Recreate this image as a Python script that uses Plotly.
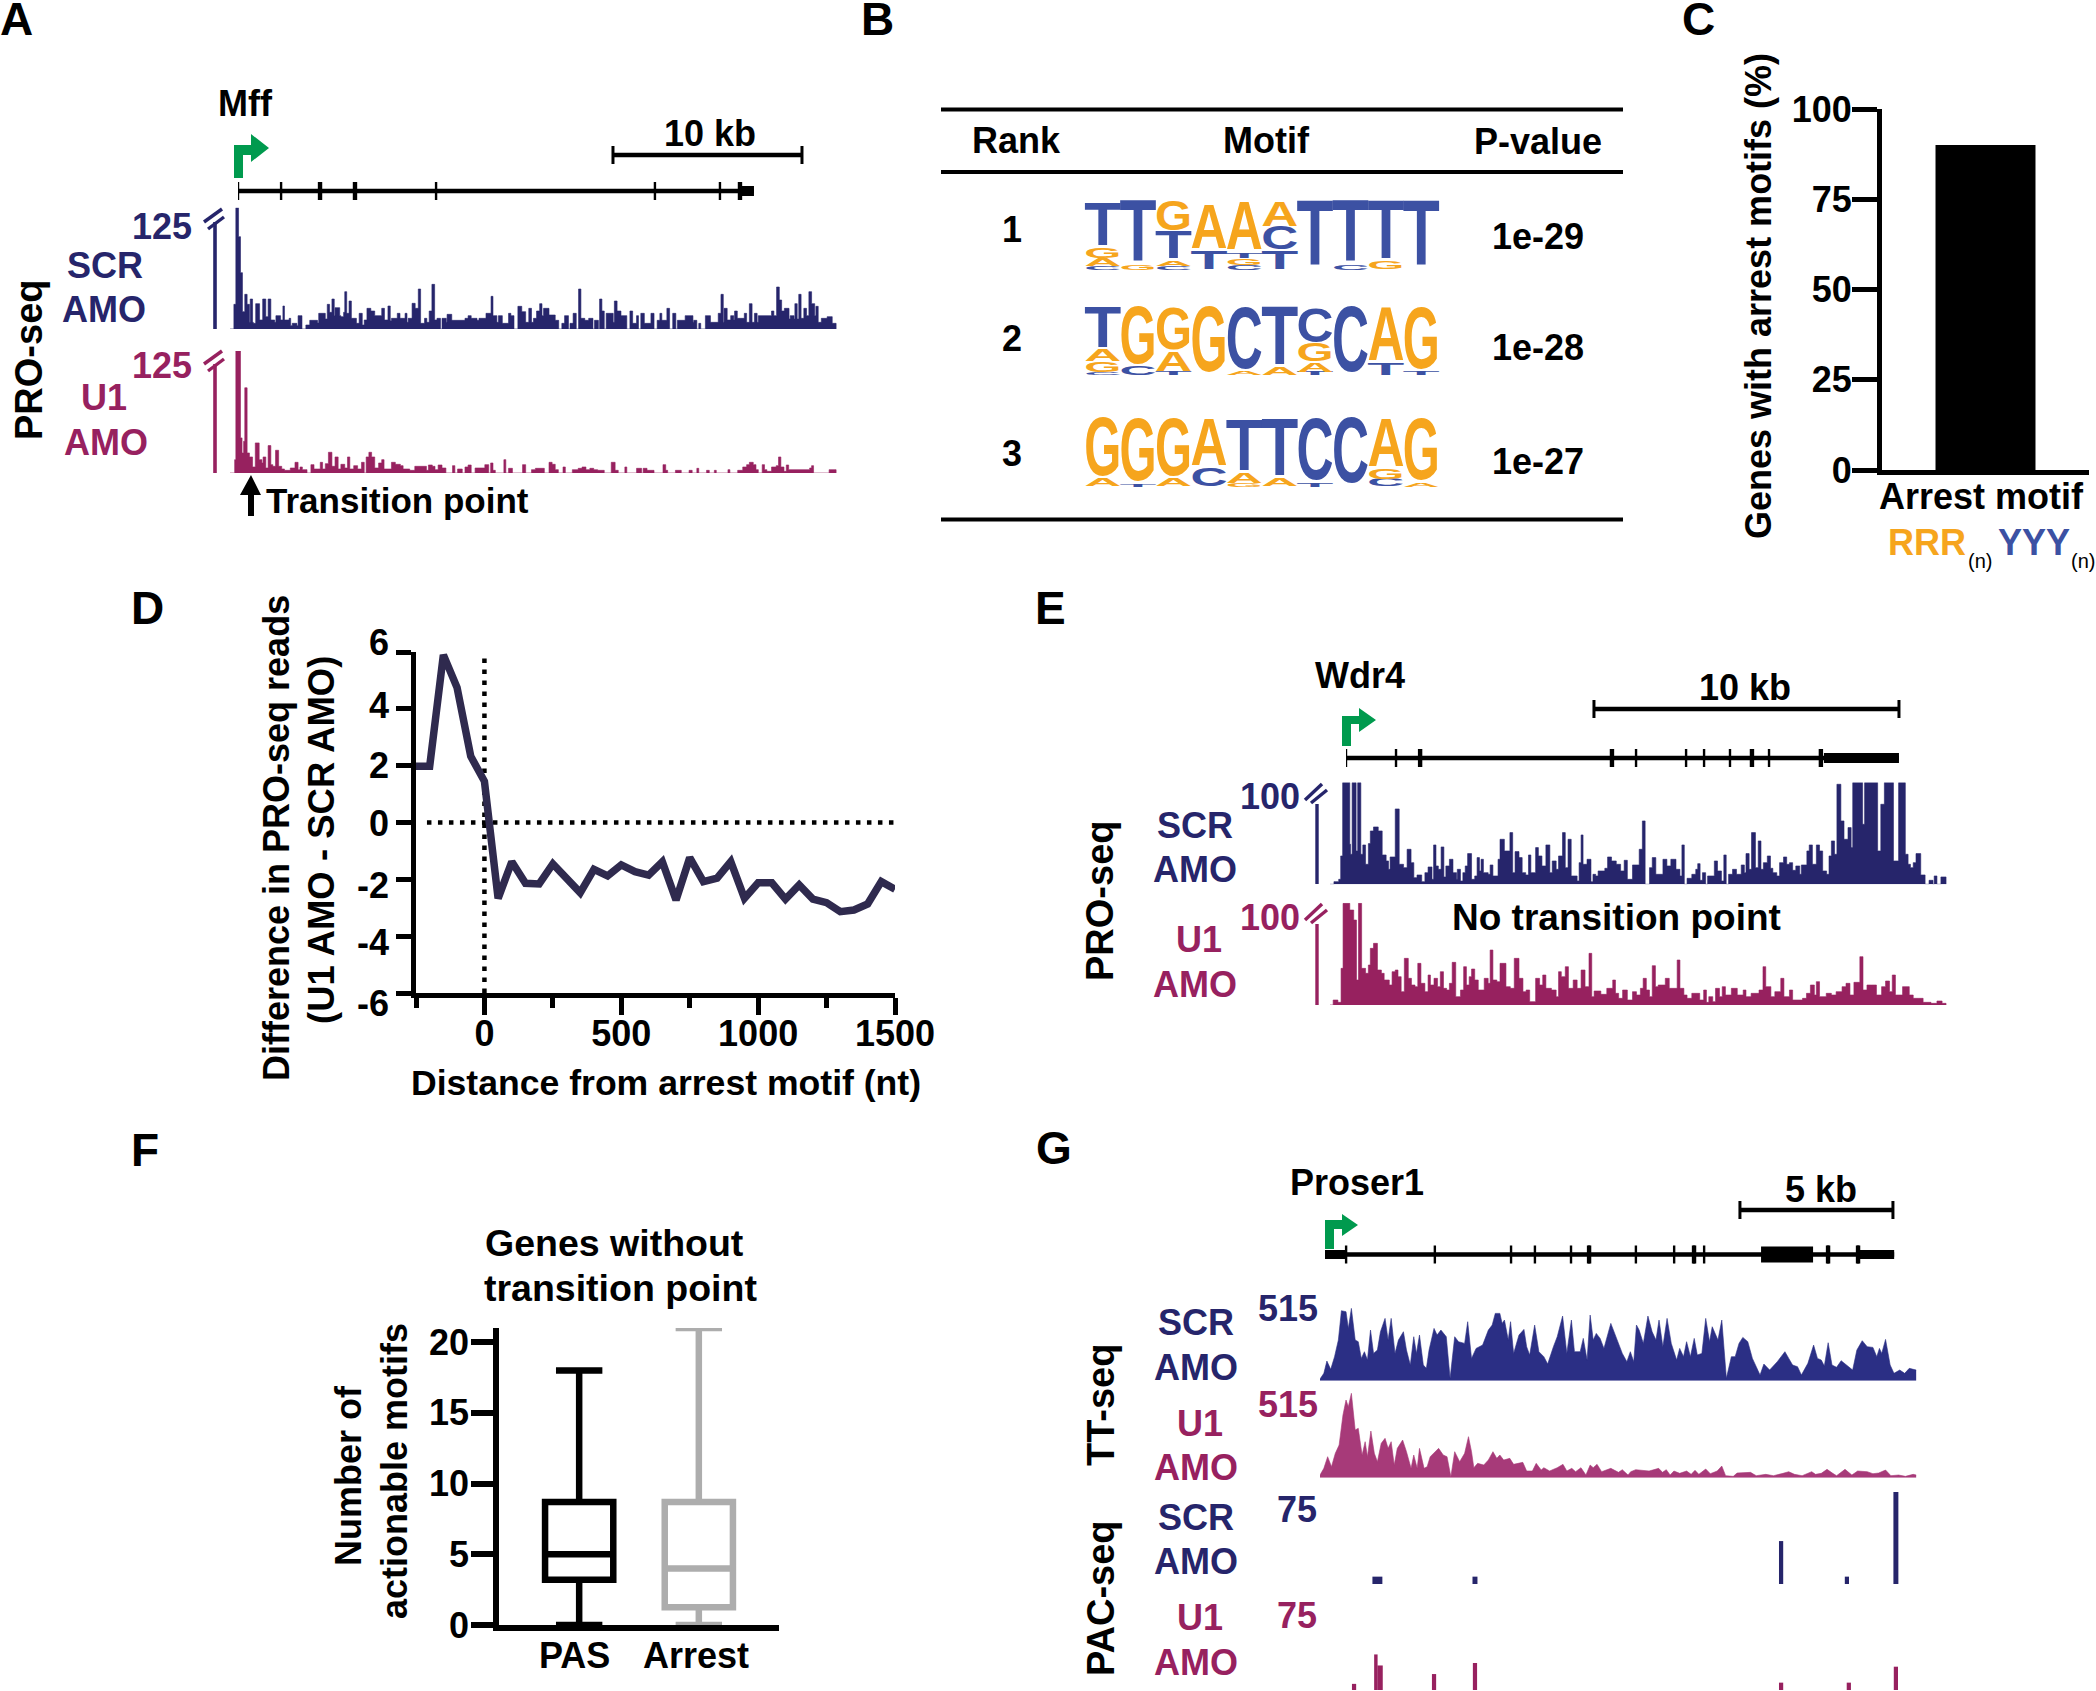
import plotly.graph_objects as go

W, H = 2096, 1691
FONT = "Liberation Sans"
NAVY = "#26256b"
MAG = "#97215f"
GREEN = "#009a4e"
ORANGE = "#f6a51d"
BLUE = "#3c51a3"
GREY = "#adadad"

# panel A - PRO-seq signal on Mff, bin number (about 20 bp) and height
mff_scr_bins = [0,10,15,22,27,32,38,44,50,52,
    58,60,66,76,84,92,98,105,115,118,
    130,136,140,152,156,160,172,175,185,195,
    205,225,228,245,250,256,262,268,270,282,
    285,292,295,300,306,312,325,332,340,345,
    352,362,372,390,397,406,412,415,430,437,
    450,455,458,468,476,484,490,500,506,512,
    519,526,532,541,545,556,558,570,575,604,
    612,620,635,640,658,671,676,686,690,700,
    716,722,730,740,750,760,768,775,780,788,
    796,802,806,820,836,845,853,860,870,874,
    882,890,896,902,912,922,933,937,947,950,
    956,962,967,985,988,995,1005,1020,1028,1035,
    1045,1050,1056,1065,1082,1090,1098,1105,1110,1123,
    1130,1138,1146,1150,1170,1190,1192,1200,1205,1210,
    1222,1235,1255,1262,1268,1270,1278,1287,1295,1297,
    1304,1312,1322,1328,1335,1342,1348,1355,1358,1392,
    1398,1405,1412,1418,1425,1437,1440,1450,1452,1458,
    1462,1468,1475,1482,1488,1495,1503,1506,1512,1520,
    1535,1548,1558]
mff_scr_vals = [0,74,364,277,169,52,104,74,20,90,
    20,17,76,27,90,37,90,27,20,40,
    27,69,27,32,10,17,10,40,0,12,
    26,18,47,30,74,50,90,40,64,40,
    37,50,112,47,84,32,17,47,12,27,
    62,54,40,62,27,69,25,32,47,32,
    47,20,32,77,62,120,17,32,20,54,
    134,27,32,0,32,20,44,26,26,32,
    40,32,26,32,47,98,40,20,40,17,
    47,40,0,68,52,20,62,20,32,54,
    76,40,62,42,26,0,17,40,0,17,
    47,0,120,32,26,32,0,26,0,90,
    54,0,47,20,84,54,40,0,54,17,
    40,0,47,17,47,0,26,47,26,62,
    0,47,0,26,40,20,26,0,17,0,
    40,20,47,104,20,62,27,40,27,54,
    32,32,47,20,76,20,47,20,40,54,
    40,126,87,54,62,30,40,30,76,30,
    104,32,62,40,112,76,40,68,20,32,
    37,17,0]

mff_u1_bins = [0,12,15,27,31,35,38,44,50,58,65,75,82,85,92,98,105,110,117,125,133,140,155,167,175,180,186,198,208,216,225,232,238,245,253,262,270,278,285,295,302,308,318,328,338,345,350,357,364,372,382,390,396,415,425,438,445,462,475,505,510,520,527,535,545,555,572,578,585,597,604,612,620,630,655,665,670,676,682,704,709,716,726,752,760,775,785,808,820,828,836,844,856,862,880,895,905,915,925,935,945,962,980,990,998,1015,1020,1045,1058,1062,1072,1090,1113,1120,1125,1145,1160,1180,1188,1200,1205,1225,1232,1245,1250,1280,1285,1305,1318,1328,1335,1345,1352,1358,1368,1374,1380,1392,1404,1410,1416,1424,1430,1436,1490,1495,1500,1540,1558]
mff_u1_vals = [0,40,365,105,60,95,255,60,48,18,90,40,30,48,15,82,25,20,68,20,12,8,15,32,10,18,10,0,25,12,12,32,12,28,62,20,48,12,26,15,48,12,22,12,32,0,48,62,48,15,30,40,12,32,26,22,12,8,20,8,24,20,10,24,15,0,22,0,12,0,18,24,0,15,25,0,30,8,0,40,0,14,0,25,0,10,14,0,32,26,10,0,18,0,10,14,18,10,14,10,8,0,32,8,0,18,0,14,0,14,8,0,25,8,0,8,0,8,0,14,0,8,0,8,0,10,0,8,18,25,32,25,10,0,25,10,5,18,22,48,18,5,24,10,15,22,0,10,0]

# panel E - PRO-seq signal on Wdr4
wdr4_scr_bins = [0,10,22,27,32,50,52,56,66,70,78,83,90,97,102,110,122,132,142,148,152,165,175,186,195,205,212,220,232,240,248,258,262,268,274,281,288,293,302,311,320,322,330,336,342,348,358,366,372,378,382,388,400,405,412,425,430,441,455,462,468,478,486,495,502,508,520,527,536,546,556,562,572,578,588,595,602,610,625,630,635,640,650,660,665,672,678,695,702,712,724,735,744,752,765,782,790,797,808,815,824,842,852,862,875,885,890,896,903,915,925,930,936,942,950,955,972,980,990,996,1002,1008,1018,1028,1040,1048,1052,1060,1066,1076,1083,1090,1096,1106,1114,1120,1130,1137,1147,1155,1162,1170,1178,1188,1192,1206,1212,1220,1230,1238,1246,1256,1262,1268,1276,1282,1292,1300,1310,1318,1322,1347,1352,1385,1393,1402,1425,1438,1455,1462,1468,1475,1482,1494,1505,1515,1525,1528,1535,1545,1558]
wdr4_scr_vals = [0,8,15,85,305,120,90,305,100,305,90,118,60,122,160,172,160,88,70,45,82,226,60,50,105,65,20,28,8,35,52,15,118,55,45,112,22,55,75,35,15,45,10,35,55,92,15,25,80,40,75,35,30,58,25,75,135,100,155,35,98,80,35,28,88,35,110,85,55,118,35,70,45,85,155,50,135,25,10,65,148,60,75,8,30,25,40,48,82,70,60,40,72,15,58,105,190,0,50,80,30,75,55,75,45,25,118,0,18,30,45,62,12,35,0,25,70,40,10,88,0,30,45,30,58,35,92,45,155,50,130,45,65,85,48,35,25,65,82,60,65,42,55,30,58,100,118,60,118,100,40,30,85,130,90,300,190,135,170,110,305,180,305,100,240,305,70,305,90,60,50,65,92,28,0,12,0,25,0,22,0]

wdr4_u1_bins = [0,8,20,28,33,50,60,67,72,80,90,97,102,110,120,130,137,150,157,165,172,180,188,198,206,215,222,230,240,248,254,263,272,279,287,295,302,309,318,330,338,345,352,358,366,375,390,400,405,412,422,430,445,456,466,478,488,496,505,520,530,538,546,560,572,578,585,595,603,615,625,635,645,655,662,668,685,700,715,722,730,740,752,765,775,785,792,800,808,815,823,830,848,858,878,885,895,903,915,935,945,952,958,968,975,985,992,1000,1015,1030,1045,1052,1065,1078,1085,1095,1102,1115,1125,1140,1148,1162,1170,1188,1195,1205,1215,1225,1230,1238,1255,1268,1280,1295,1305,1315,1325,1340,1348,1358,1370,1382,1395,1405,1415,1422,1430,1448,1465,1475,1488,1500,1520,1535,1548,1558]
wdr4_u1_vals = [0,15,8,110,305,285,255,75,305,110,95,120,170,185,105,95,75,60,100,105,85,40,140,80,60,55,125,65,40,90,60,80,55,100,50,45,65,128,25,45,115,60,85,108,75,45,80,65,165,75,70,125,55,50,140,80,40,45,10,80,60,90,50,45,25,100,85,115,50,75,50,105,55,155,25,42,32,50,75,35,20,45,15,40,30,50,80,45,25,118,55,60,80,50,135,50,30,20,35,15,45,8,25,10,50,25,55,30,50,30,45,25,35,35,45,115,55,25,40,80,25,45,15,15,20,35,60,30,70,25,35,30,40,55,65,30,68,145,45,60,60,30,55,72,40,90,30,55,30,20,20,8,5,12,5,0]

# panel G - TT-seq coverage on Proser1
proser_scr_bins = [0,10,18,28,38,48,56,68,74,82,92,100,108,116,124,132,140,150,158,170,178,186,196,205,218,226,236,245,252,260,270,278,285,298,306,316,330,340,352,362,378,386,396,408,425,440,450,458,470,476,482,492,498,506,520,533,540,548,561,572,585,595,610,620,634,645,657,665,680,688,698,706,714,722,732,742,760,776,790,802,811,820,827,834,845,857,868,878,886,896,907,918,932,940,950,958,968,978,986,998,1008,1018,1025,1040,1050,1062,1075,1085,1095,1105,1118,1130,1150,1160,1175,1195,1215,1225,1235,1248,1258,1275,1290,1300,1310,1318,1328,1338,1350,1362,1378,1392,1403,1417,1430,1445,1455,1462,1468,1478,1490,1500,1515,1528,1540,1558]
proser_scr_vals = [5,22,59,34,72,122,210,207,157,217,122,117,67,87,62,152,82,92,147,187,122,187,82,122,147,92,47,132,82,137,47,37,92,157,137,152,132,7,132,117,112,177,67,97,107,152,167,202,202,172,182,122,177,82,137,154,102,77,167,87,72,50,102,132,194,82,182,87,87,127,62,197,122,142,127,97,172,122,82,57,87,57,167,152,112,194,147,122,182,102,187,112,62,97,72,117,72,127,77,82,187,117,162,122,182,7,72,72,112,130,117,67,17,50,32,57,87,67,47,42,17,52,107,67,62,44,114,47,40,60,44,32,92,120,102,100,72,97,82,124,47,22,32,22,37,32]

proser_u1_bins = [0,10,20,30,40,50,60,68,74,82,92,100,110,118,124,133,142,150,160,170,178,186,194,202,216,226,238,245,254,260,272,280,288,310,322,332,342,352,365,378,388,396,402,412,428,440,452,462,470,480,496,506,530,540,555,565,578,585,600,620,635,645,658,668,682,695,706,714,724,736,760,780,790,805,812,825,860,885,895,905,915,925,940,958,970,980,990,1008,1020,1038,1050,1060,1080,1090,1125,1140,1165,1185,1210,1225,1240,1260,1285,1295,1310,1325,1340,1350,1372,1390,1405,1430,1445,1460,1478,1492,1512,1530,1550,1558]
proser_u1_vals = [8,28,63,33,73,98,188,233,213,253,143,148,68,108,63,140,73,48,103,118,88,108,38,88,113,78,28,68,28,88,28,33,63,88,68,63,3,78,48,73,123,78,30,43,38,53,78,58,68,53,58,40,46,20,20,43,23,30,20,30,40,20,28,18,30,8,38,30,40,18,28,16,24,8,18,24,20,28,16,24,8,20,13,20,10,22,10,26,12,20,35,6,4,14,16,6,10,6,13,18,10,6,18,10,13,25,13,6,25,8,20,18,12,14,23,6,8,4,10,8]

# bins and heights have to pair up
track_lengths = {
    "mff_scr": (len(mff_scr_bins), len(mff_scr_vals)), "mff_u1": (len(mff_u1_bins), len(mff_u1_vals)),
    "wdr4_scr": (len(wdr4_scr_bins), len(wdr4_scr_vals)), "wdr4_u1": (len(wdr4_u1_bins), len(wdr4_u1_vals)),
    "proser_scr": (len(proser_scr_bins), len(proser_scr_vals)), "proser_u1": (len(proser_u1_bins), len(proser_u1_vals)),
}
assert all(a == b for a, b in track_lengths.values()), str(track_lengths)

# panel G - PAC-seq peaks
pac_scr_pos = [150,405,1205,1377,1505]
pac_scr_reads = [6,6,35,6,75]
pac_scr_width = [26,13,11,11,13]
pac_u1_pos = [89,146,157,298,405,1205,1382,1505]
pac_u1_reads = [5,29,20,13,22,6,6,19]
pac_u1_width = [11,9,14,11,11,11,11,11]

# gene models, kb from the left end
mff_exons = [0,2.28,4.34,6.19,10.48,22.06,25.5,26.56]
mff_wide = [4.34,6.19,26.56]
mff_blocks = [[26.56,27.3]]
mff_block_h = [10]
wdr4_exons = [0,1.64,2.43,8.72,9.51,11.15,11.74,12.59,13.31,13.87,15.57]
wdr4_wide = [2.43,8.72,13.31,15.57]
wdr4_blocks = [[15.67,18.13]]
wdr4_block_h = [10]
proser_exons = [0.69,3.59,6.08,6.86,8.04,8.63,10.16,11.41,12.06,12.39,16.44,17.42]
proser_wide = [8.63,12.06,16.44,17.42]
proser_blocks = [[0,0.69],[14.25,15.95],[17.42,18.6]]
proser_block_h = [9,16,9]

# panel B - sequence logos, letters from the bottom of each stack to the top
motif_ranks = ["1","2","3"]
motif_pvalues = ["1e-29","1e-28","1e-27"]
motif1_letters = [["C","A","G","T"],["G","T"],["C","A","T","G"],["T","A"],["C","G","T","A"],["T","C","A"],["T"],["C","T"],["G","T"],["T"]]
motif1_heights = [[.05,.12,.15,.65],[.08,.91],[.06,.08,.41,.44],[.28,.67],[.07,.10,.08,.72],[.28,.34,.36],[.97],[.08,.91],[.12,.87],[.97]]
motif2_letters = [["C","G","A","T"],["C","G"],["T","A","G"],["G"],["A","C"],["A","T"],["T","A","G","C"],["C"],["T","A"],["T","G"]]
motif2_heights = [[.04,.16,.18,.61],[.13,.86],[.05,.30,.64],[.98],[.05,.92],[.11,.88],[.05,.14,.27,.52],[.98],[.17,.80],[.05,.92]]
motif3_letters = [["A","G"],["T","G"],["A","G"],["C","A"],["G","A","T"],["A","T"],["T","C"],["C"],["C","G","A"],["A","G"]]
motif3_heights = [[.11,.88],[.04,.94],[.11,.87],[.27,.70],[.05,.15,.77],[.11,.87],[.05,.92],[.98],[.11,.15,.72],[.05,.93]]

# panel C
arrest_percent = [90]

# panel D
distance_nt = [-250,-200,-150,-100,-50,0,50,100,150,200,250,300,350,400,450,500,550,600,650,700,750,800,850,900,950,1000,1050,1100,1150,1200,1250,1300,1350,1400,1450,1500]
read_difference = [1.98,1.98,5.9,4.75,2.33,1.45,-2.67,-1.38,-2.14,-2.16,-1.46,-1.96,-2.47,-1.65,-1.88,-1.49,-1.73,-1.85,-1.38,-2.73,-1.24,-2.08,-1.96,-1.38,-2.67,-2.12,-2.12,-2.7,-2.2,-2.7,-2.82,-3.14,-3.08,-2.87,-2.08,-2.35]

# panel F
box_names = ["PAS","Arrest"]
box_low = [0,0]
box_q1 = [3.2,1.25]
box_median = [5,4]
box_q3 = [8.7,8.7]
box_high = [18,21]

fig = go.Figure()
axis_count = 1


def tick_font(size=36):
    return dict(family=FONT, size=size, color="black", weight=700)


def add_axes(x0, x1, y_bottom, y_top, xr, yr, xstyle=None, ystyle=None):
    global axis_count
    axis_count += 1
    n = axis_count
    xa = dict(domain=[x0 / W, x1 / W], range=xr, anchor=f"y{n}", visible=False, showgrid=False, zeroline=False)
    ya = dict(domain=[1 - y_bottom / H, 1 - y_top / H], range=yr, anchor=f"x{n}", visible=False, showgrid=False, zeroline=False)
    xa.update(xstyle or {})
    ya.update(ystyle or {})
    fig.update_layout({f"xaxis{n}": xa, f"yaxis{n}": ya})
    return f"x{n}", f"y{n}"


notes = []
shapes = []


def txt(x, y, s, color="black", size=36, angle=0, anchor="center", weight=700):
    notes.append(dict(x=x / W, y=1 - y / H, xref="paper", yref="paper", text=s, showarrow=False,
                      xanchor=anchor, yanchor="middle", textangle=angle,
                      font=dict(family=FONT, size=size, color=color, weight=weight)))


def poly(pts, color):
    d = "M " + " L ".join(f"{x / W:.5f},{1 - y / H:.5f}" for x, y in pts) + " Z"
    shapes.append(dict(type="path", path=d, xref="paper", yref="paper", fillcolor=color, line=dict(width=0)))


def seg(x0, y0, x1, y1, color, width):
    shapes.append(dict(type="line", xref="paper", yref="paper", x0=x0 / W, x1=x1 / W, y0=1 - y0 / H, y1=1 - y1 / H,
                       line=dict(color=color, width=width)))


def tss_arrow(x0, x1, bottom, top, band, hb, tip, htop, hbot, mid):
    poly([(x0, bottom), (x0, top), (hb, top), (hb, htop), (tip, mid), (hb, hbot), (hb, band), (x1, band), (x1, bottom)], GREEN)


def track(bins, vals, xr, box, ymax, color, shape="hv"):
    xa, ya = add_axes(box[0], box[1], box[2], box[3], xr, [0, ymax])
    fig.add_trace(go.Scatter(x=bins, y=vals, mode="lines", line=dict(color=color, width=0.6, shape=shape),
                             fill="tozeroy", fillcolor=color, xaxis=xa, yaxis=ya, showlegend=False))


def gene(x0, px_per_kb, gene_y, scale_y, exons, wide, blocks, block_h, end, scale_start, scale_kb):
    span = 620
    xa, ya = add_axes(x0, x0 + span, gene_y + 14, scale_y - 14, [0, span / px_per_kb], [-14, gene_y - scale_y + 14])
    sy = gene_y - scale_y

    def line(xs, ys, w):
        fig.add_trace(go.Scatter(x=xs, y=ys, mode="lines", line=dict(color="black", width=w), xaxis=xa, yaxis=ya,
                                 showlegend=False, cliponaxis=False))

    def ticks(pos, w):
        tx, ty = [], []
        for e in pos:
            tx += [e, e, None]
            ty += [-9, 9, None]
        line(tx, ty, w)
    line([0, end], [0, 0], 4.4)
    ticks(exons, 2.4)
    ticks(wide, 4.4)
    for b, bh in zip(blocks, block_h):
        line(b, [0, 0], bh)
    line([scale_start, scale_start + scale_kb], [sy, sy], 4.4)
    line([scale_start, scale_start, None, scale_start + scale_kb, scale_start + scale_kb],
         [sy - 9, sy + 9, None, sy - 9, sy + 9], 3)


def logo(letters, heights, box):
    xa, ya = add_axes(box[0], box[1], box[2], box[3], [0.5, 10.5], [0, 1])
    xs, ys, labels, sizes, colors = [], [], [], [], []
    for i, (col, hs) in enumerate(zip(letters, heights)):
        base = 0
        for ch, h in zip(col, hs):
            xs.append(i + 1)
            # text middle sits a bit lower than the middle of the capital
            ys.append(base + h / 2 - 0.083 * h)
            labels.append(ch)
            sizes.append(h * (box[2] - box[3]) / 0.72)
            colors.append(ORANGE if ch in "GA" else BLUE)
            base += h
    fig.add_trace(go.Scatter(x=xs, y=ys, text=labels, mode="text", textposition="middle center", cliponaxis=False,
                             textfont=dict(family=FONT, size=sizes, color=colors, weight=700),
                             xaxis=xa, yaxis=ya, showlegend=False))


def scale_hash(xb, ytop, color, rel):
    for a, b, c, d in rel:
        seg(xb + a, ytop + b, xb + c, ytop + d, color, 3.4)


# panel letters
for lab, x, y in [("A", 16, 19), ("B", 877, 19), ("C", 1698, 19), ("D", 147, 608), ("E", 1050, 608), ("F", 145, 1150), ("G", 1054, 1148)]:
    txt(x, y, lab, size=46)

# A
track(mff_scr_bins, mff_scr_vals, [0, 1568], (230, 840, 329, 207.7), 364, NAVY)
track(mff_u1_bins, mff_u1_vals, [0, 1568], (230, 840, 473, 351), 365, MAG)
gene(238, 18.9, 191, 155, mff_exons, mff_wide, mff_blocks, mff_block_h, 27.3, 19.84, 10)
tss_arrow(234, 243, 178, 145, 155, 251, 269, 134, 162, 148)
hash_a = [(-11, 2, 7, -11), (-7, 9, 9, -3)]
seg(215, 222, 215, 329, NAVY, 3.6)
scale_hash(215, 220, NAVY, hash_a)
seg(215, 364, 215, 473, MAG, 3.6)
scale_hash(215, 362, MAG, hash_a)
poly([(248, 516), (248, 495), (240, 495), (251, 475), (261, 495), (254, 495), (254, 516)], "black")
txt(245, 104, "Mff")
txt(710, 134, "10 kb")
txt(162, 226, "125", NAVY)
txt(105, 265, "SCR", NAVY)
txt(104, 310, "AMO", NAVY)
txt(162, 366, "125", MAG)
txt(104, 397, "U1", MAG)
txt(106, 442, "AMO", MAG)
txt(29, 360, "PRO-seq", size=38, angle=-90)
txt(264, 500, "Transition point", size=35, anchor="left")

# B
logo(motif1_letters, motif1_heights, (1085, 1439, 270, 201.6))
logo(motif2_letters, motif2_heights, (1085, 1439, 375.6, 308))
logo(motif3_letters, motif3_heights, (1085, 1439, 487, 419))
for y in [109.5, 172, 519.5]:
    seg(941, y, 1623, y, "black", 3.8)
txt(1016, 140, "Rank")
txt(1266, 140, "Motif")
txt(1538, 141, "P-value")
for rank, pval, y_rank, y_p in zip(motif_ranks, motif_pvalues, [229, 338, 453], [237, 347, 461]):
    txt(1012, y_rank, rank)
    txt(1538, y_p, pval)

# C
xa, ya = add_axes(1882, 2089, 470, 109, [-0.5, 0.5], [0, 100],
                  dict(visible=True, showline=True, linecolor="black", linewidth=5, ticks="", showticklabels=False),
                  dict(visible=True, showline=True, linecolor="black", linewidth=5, ticks="outside", ticklen=25,
                       tickwidth=5, tickcolor="black", tickvals=[0, 25, 50, 75, 100], tickfont=tick_font(),
                       ticklabelstandoff=-7))
fig.add_trace(go.Bar(x=[0], y=arrest_percent, width=0.483, marker=dict(color="black", line=dict(width=0)),
                     xaxis=xa, yaxis=ya, showlegend=False))
txt(1758, 296, "Genes with arrest motifs (%)", size=36, angle=-90)
txt(1981, 497, "Arrest motif")
txt(1927, 542, "RRR", ORANGE)
txt(1980, 561, "(n)", size=20, weight=400)
txt(2034, 542, "YYY", BLUE)
txt(2083, 561, "(n)", size=20, weight=400)

# D
xa, ya = add_axes(416, 895, 993, 652, [-250, 1500], [-6, 6],
                  dict(visible=True, showline=True, linecolor="black", linewidth=5, ticks="outside", ticklen=17,
                       tickwidth=5, tickcolor="black", tickvals=[0, 500, 1000, 1500], tickfont=tick_font(),
                       ticklabelstandoff=-12,
                       minor=dict(tickvals=[-250, 250, 750, 1250], ticks="outside", ticklen=10, tickwidth=5, tickcolor="black")),
                  dict(visible=True, showline=True, linecolor="black", linewidth=5, ticks="outside", ticklen=15,
                       tickwidth=5, tickcolor="black", tickvals=[-6, -4, -2, 0, 2, 4, 6], showticklabels=False))
dot = dict(color="black", width=4.5, dash="4.5px,6.5px")
fig.add_trace(go.Scatter(x=[0, 0], y=[-6, 6], mode="lines", line=dot, xaxis=xa, yaxis=ya, showlegend=False))
fig.add_trace(go.Scatter(x=[-210, 1500], y=[0, 0], mode="lines", line=dot, xaxis=xa, yaxis=ya, showlegend=False))
fig.add_trace(go.Scatter(x=distance_nt, y=read_difference, mode="lines", line=dict(color="#2f2a4e", width=7.5),
                         xaxis=xa, yaxis=ya, showlegend=False))
for lab, y in [("6", 643), ("4", 705), ("2", 765), ("0", 823), ("-2", 885), ("-4", 943), ("-6", 1003)]:
    txt(391, y, lab, anchor="right")
txt(276, 838, "Difference in PRO-seq reads", angle=-90)
txt(321, 840, "(U1 AMO - SCR AMO)", size=36.5, angle=-90)
txt(666, 1083, "Distance from arrest motif (nt)", size=35.6)

# E
track(wdr4_scr_bins, wdr4_scr_vals, [0, 1568], (1330, 1950, 884.3, 782.6), 305, NAVY)
track(wdr4_u1_bins, wdr4_u1_vals, [0, 1568], (1330, 1950, 1005, 902.7), 307, MAG)
gene(1346, 30.5, 758, 709, wdr4_exons, wdr4_wide, wdr4_blocks, wdr4_block_h, 18.13, 8.13, 10)
tss_arrow(1342, 1351, 746, 716, 724, 1359, 1376, 708, 732, 720)
hash_e = [(-12, -2, 5, -18), (-6, 1, 10, -12)]
seg(1317, 804, 1317, 884, NAVY, 3.4)
scale_hash(1317, 802, NAVY, hash_e)
seg(1317, 924, 1317, 1005, MAG, 3.4)
scale_hash(1317, 922, MAG, hash_e)
txt(1360, 675, "Wdr4")
txt(1745, 687, "10 kb")
txt(1270, 796, "100", NAVY)
txt(1195, 825, "SCR", NAVY)
txt(1195, 870, "AMO", NAVY)
txt(1270, 918, "100", MAG)
txt(1199, 939, "U1", MAG)
txt(1195, 984, "AMO", MAG)
txt(1100, 901, "PRO-seq", size=38, angle=-90)
txt(1616, 918, "No transition point", size=37)

# F
xa, ya = add_axes(499, 779, 1625, 1328, [0.33, 2.67], [0, 21],
                  dict(visible=True, showline=True, linecolor="black", linewidth=5.5, ticks="", showticklabels=False,
                       layer="below traces"),
                  dict(visible=True, showline=True, linecolor="black", linewidth=5.5, ticks="outside", ticklen=22,
                       tickwidth=5.5, tickcolor="black", tickvals=[0, 5, 10, 15, 20], tickfont=tick_font(),
                       ticklabelstandoff=-5, layer="below traces"))
for i, color in enumerate(["black", GREY]):
    fig.add_trace(go.Box(x=[i + 1], q1=[box_q1[i]], median=[box_median[i]], q3=[box_q3[i]], lowerfence=[box_low[i]],
                         upperfence=[box_high[i]], width=0.57, whiskerwidth=0.68, fillcolor="rgba(0,0,0,0)",
                         line=dict(color=color, width=6.5), xaxis=xa, yaxis=ya, showlegend=False))
txt(574, 1655, box_names[0])
txt(696, 1655, box_names[1])
txt(614, 1243, "Genes without", size=37.5)
txt(620, 1288, "transition point", size=37.5)
txt(348, 1476, "Number of", angle=-90)
txt(394, 1471, "actionable motifs", angle=-90)

# G
track(proser_scr_bins, proser_scr_vals, [0, 1568], (1320, 1920, 1380.7, 1297.4), 250, "#2b2f85", "linear")
track(proser_u1_bins, proser_u1_vals, [0, 1568], (1320, 1920, 1477.7, 1391), 260, "#a73a79", "linear")
gene(1325, 30.6, 1254.5, 1210, proser_exons, proser_wide, proser_blocks, proser_block_h, 18.6, 13.56, 5)
tss_arrow(1325, 1334, 1249, 1220, 1229, 1342, 1358, 1214, 1236, 1225)
xa, ya = add_axes(1320, 1920, 1584, 1492, [0, 1568], [0, 75])
fig.add_trace(go.Bar(x=pac_scr_pos, y=pac_scr_reads, width=pac_scr_width, marker=dict(color=NAVY, line=dict(width=0)),
                     xaxis=xa, yaxis=ya, showlegend=False))
xa, ya = add_axes(1320, 1920, 1690, 1598, [0, 1568], [0, 75])
fig.add_trace(go.Bar(x=pac_u1_pos, y=pac_u1_reads, width=pac_u1_width, marker=dict(color=MAG, line=dict(width=0)),
                     xaxis=xa, yaxis=ya, showlegend=False))
txt(1357, 1182, "Proser1")
txt(1821, 1189, "5 kb")
txt(1288, 1308, "515", NAVY)
txt(1196, 1322, "SCR", NAVY)
txt(1196, 1367, "AMO", NAVY)
txt(1288, 1404, "515", MAG)
txt(1200, 1423, "U1", MAG)
txt(1196, 1467, "AMO", MAG)
txt(1101, 1405, "TT-seq", size=38, angle=-90)
txt(1297, 1509, "75", NAVY)
txt(1196, 1517, "SCR", NAVY)
txt(1196, 1561, "AMO", NAVY)
txt(1297, 1615, "75", MAG)
txt(1200, 1617, "U1", MAG)
txt(1196, 1662, "AMO", MAG)
txt(1101, 1598, "PAC-seq", size=38, angle=-90)

fig.update_layout(width=W, height=H, margin=dict(l=0, r=0, t=0, b=0, autoexpand=False), paper_bgcolor="white",
                  plot_bgcolor="rgba(0,0,0,0)", barmode="overlay", showlegend=False, annotations=notes, shapes=shapes,
                  font=dict(family=FONT, weight=700))

# squeeze the logo letters to the column width, the heights come from the font size
squeeze = """
document.body.style.margin = '0';
document.querySelectorAll('.textpoint text').forEach(function (t) {
  t.setAttribute('textLength', '37');
  t.setAttribute('lengthAdjust', 'spacingAndGlyphs');
});
"""
fig.write_html("out.html", config={"displayModeBar": False}, post_script=squeeze)
